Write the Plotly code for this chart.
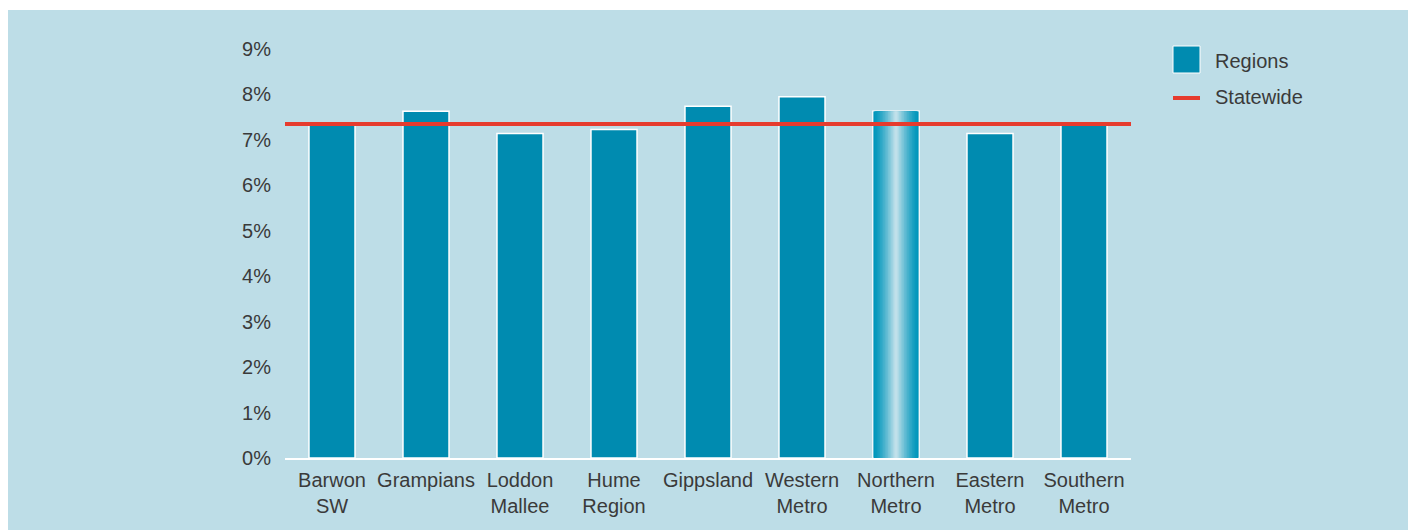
import plotly.graph_objects as go

categories = ["Barwon<br>SW", "Grampians", "Loddon<br>Mallee", "Hume<br>Region", "Gippsland",
              "Western<br>Metro", "Northern<br>Metro", "Eastern<br>Metro", "Southern<br>Metro"]
region_values = [7.34, 7.63, 7.14, 7.23, 7.74, 7.95, 7.63, 7.14, 7.34]
statewide_value = 7.35
highlight_category = "Northern<br>Metro"
y_ticks = [0, 1, 2, 3, 4, 5, 6, 7, 8, 9]

# the page body adds an 8px margin, so layout pixels are given in page coords minus 8
OFF = 8
W, H = 1416, 530
PL, PT = 285, 49          # page coords of plot area left/top
PW, PH = 846, 409         # plot area size
L, T = PL - OFF, PT - OFF
R = W - L - PW
B = H - T - PH
BG = "#bddde7"
TEAL = "#008bb0"
RED = "#e63b2e"
TXT = "#3a3a3a"
FONT = "Liberation Sans, Arial, sans-serif"
BAR_W = 0.49

fig = go.Figure()
fig.add_trace(go.Bar(x=categories, y=region_values, width=BAR_W, name="Regions",
                     marker=dict(color=TEAL, line=dict(color="white", width=1.5)),
                     showlegend=False, hoverinfo="x+y"))

# gradient fill for highlighted bar
hi_val = region_values[categories.index(highlight_category)]
edge = (0, 150, 187)
light = (192, 224, 234)
N = 14
for k in range(N):
    t = k / (N - 1)
    f = t ** 1.3
    c = tuple(round(edge[i] + (light[i] - edge[i]) * f) for i in range(3))
    w = (BAR_W - 0.012) * (1 - k / N)
    fig.add_trace(go.Bar(x=[highlight_category], y=[hi_val], width=w,
                         marker=dict(color="rgb(%d,%d,%d)" % c, line=dict(width=0)),
                         showlegend=False, hoverinfo="skip"))

fig.add_shape(type="line", xref="paper", yref="y", x0=0, x1=1,
              y0=statewide_value, y1=statewide_value, line=dict(color=RED, width=4))

def px_x(p):  # page x -> paper
    return (p - PL) / PW
def px_y(p):  # page y -> paper
    return (PT + PH - p) / PH

# white strip at the top and right of the panel
fig.add_shape(type="rect", xref="paper", yref="paper", layer="below",
              x0=px_x(0), x1=px_x(W + 20), y0=px_y(10), y1=px_y(0),
              line=dict(width=0), fillcolor="white")
fig.add_shape(type="rect", xref="paper", yref="paper", layer="below",
              x0=px_x(1412), x1=px_x(W + 20), y0=px_y(H + 20), y1=px_y(0),
              line=dict(width=0), fillcolor="white")

# custom legend
fig.add_shape(type="rect", xref="paper", yref="paper",
              x0=px_x(1173), x1=px_x(1200), y0=px_y(73), y1=px_y(46),
              fillcolor=TEAL, line=dict(color="white", width=1))
fig.add_shape(type="line", xref="paper", yref="paper",
              x0=px_x(1173), x1=px_x(1200), y0=px_y(98), y1=px_y(98),
              line=dict(color=RED, width=4))
fig.add_annotation(text="Regions", xref="paper", yref="paper", x=px_x(1213), y=px_y(61),
                   xanchor="left", yanchor="middle", showarrow=False,
                   font=dict(family=FONT, size=20, color=TXT))
fig.add_annotation(text="Statewide", xref="paper", yref="paper", x=px_x(1213), y=px_y(97),
                   xanchor="left", yanchor="middle", showarrow=False,
                   font=dict(family=FONT, size=20, color=TXT))

fig.update_layout(
    width=W, height=H, margin=dict(l=L, r=R, t=T, b=B),
    paper_bgcolor=BG, plot_bgcolor="rgba(0,0,0,0)",
    barmode="overlay", bargap=0.51, showlegend=False,
    font=dict(family=FONT, size=20, color=TXT),
    xaxis=dict(showgrid=False, showline=True, linecolor="white", linewidth=2,
               ticks="", ticklabelstandoff=3, tickfont=dict(size=20, color=TXT), fixedrange=True),
    yaxis=dict(range=[0, 9], tickvals=y_ticks, ticktext=[f"{v}%" for v in y_ticks],
               showgrid=False, zeroline=False, showline=False, ticks="",
               ticklabelstandoff=13, tickfont=dict(size=20, color=TXT), fixedrange=True),
)

fig.write_html("out.html")
